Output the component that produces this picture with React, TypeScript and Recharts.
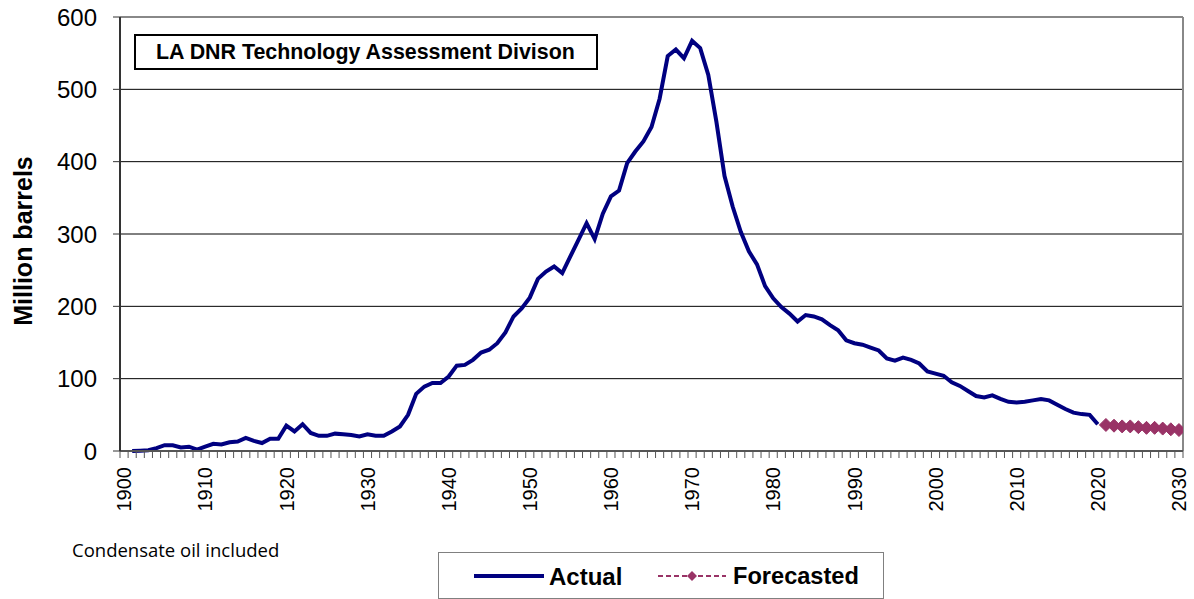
import React from "react";
import {
  LineChart,
  Line,
  XAxis,
  YAxis,
  CartesianGrid,
  ReferenceLine,
  Legend,
} from "recharts";

// ---- data ----
const actualStartYear = 1901;
const actualValues: number[] = [
  // 1901-1910
  0, 0.5, 1, 4, 8, 8, 5, 6, 2, 6,
  // 1911-1920
  10, 9, 12, 13, 18, 14, 11, 17, 17, 35,
  // 1921-1930
  27, 37, 25, 21, 21, 24, 23, 22, 20, 23,
  // 1931-1940
  21, 21, 27, 34, 50, 79, 89, 94, 94, 103,
  // 1941-1950
  118, 119, 126, 136, 140, 149, 164, 186, 197, 212,
  // 1951-1960
  238, 248, 255, 246, 269, 292, 315, 293, 328, 352,
  // 1961-1970
  360, 398, 414, 428, 448, 487, 546, 555, 543, 567,
  // 1971-1980
  557, 520, 455, 380, 338, 303, 276, 258, 228, 211,
  // 1981-1990
  199, 190, 179, 188, 186, 182, 174, 167, 153, 149,
  // 1991-2000
  147, 143, 139, 128, 125, 129, 126, 121, 110, 107,
  // 2001-2010
  104, 95, 90, 83, 76, 74, 77, 72, 68, 67,
  // 2011-2020
  68, 70, 72, 70, 64, 58, 53, 51, 50, 37,
];
const forecastStartYear = 2021;
const forecastValues: number[] = [36, 35, 34, 34, 33, 32, 32, 31, 30, 29];

const yTicks = [0, 100, 200, 300, 400, 500, 600];
const firstYear = 1900;
const lastYear = 2030;
const labelEvery = 10;

const data: { year: number; actual: number | null; forecast: number | null }[] = [];
for (let y = firstYear; y <= lastYear; y++) {
  const ai = y - actualStartYear;
  const fi = y - forecastStartYear;
  data.push({
    year: y,
    actual: ai >= 0 && ai < actualValues.length ? actualValues[ai] : null,
    forecast: fi >= 0 && fi < forecastValues.length ? forecastValues[fi] : null,
  });
}
const boundaryTicks: number[] = [];
for (let i = 0; i <= lastYear - firstYear + 1; i++) boundaryTicks.push(firstYear - 0.5 + i);

// ---- layout ----
const W = 1194;
const H = 599;
const MARGIN = { top: 17, right: 11, left: 0, bottom: 0 };
const Y_AXIS_W = 120;
const X_AXIS_H = 148;
const PLOT_W = W - MARGIN.left - MARGIN.right - Y_AXIS_W;
const STEP = PLOT_W / (lastYear - firstYear + 1);

const FONT = "'Liberation Sans', Arial, Helvetica, sans-serif";
const NAVY = "#000080";
const PLUM = "#993366";

const XTick = (props: any) => {
  const { x, y, payload } = props;
  const year = payload.value + 0.5;
  if (Math.round(year) % labelEvery !== 0) return <g />;
  const cx = x + STEP / 2;
  return (
    <text
      x={cx}
      y={y}
      transform={`rotate(-90, ${cx}, ${y})`}
      textAnchor="end"
      dy="0.36em"
      fontSize={20}
      fontFamily={FONT}
      fill="#000"
    >
      {Math.round(year)}
    </text>
  );
};

const Diamond = (props: any) => {
  const { cx, cy } = props;
  if (cx == null || cy == null) return <g />;
  const r = 6.5;
  return (
    <path
      d={`M${cx},${cy - r}L${cx + r},${cy}L${cx},${cy + r}L${cx - r},${cy}Z`}
      fill={PLUM}
      stroke={PLUM}
      strokeWidth={1}
    />
  );
};

const LegendBox = () => (
  <div
    style={{
      width: 446,
      height: 47,
      boxSizing: "border-box",
      border: "1px solid #808080",
      background: "#fff",
      position: "relative",
    }}
  >
    <svg width={444} height={45} style={{ position: "absolute", left: 0, top: 0 }}>
      <line x1={35} y1={23} x2={105} y2={23} stroke={NAVY} strokeWidth={4} />
      <text x={110} y={23} dy="0.36em" fontSize={24} fontWeight="bold" fontFamily={FONT} fill="#000">
        Actual
      </text>
      <line x1={219} y1={23} x2={287} y2={23} stroke={PLUM} strokeWidth={2} strokeDasharray="5 3" />
      <path d="M253,18L258,23L253,28L248,23Z" fill={PLUM} />
      <text x={294} y={23} dy="0.36em" fontSize={23.6} fontWeight="bold" fontFamily={FONT} fill="#000">
        Forecasted
      </text>
    </svg>
  </div>
);

const YLabel = (props: any) => {
  const vb = props.viewBox || {};
  const cx = 23;
  const cy = vb.y + vb.height / 2 + 7;
  return (
    <text
      x={cx}
      y={cy}
      transform={`rotate(-90, ${cx}, ${cy})`}
      textAnchor="middle"
      dy="0.36em"
      fontSize={25}
      fontWeight="bold"
      fontFamily={FONT}
      fill="#000"
    >
      Million barrels
    </text>
  );
};

export default function App() {
  return (
    <div style={{ position: "relative", width: W, height: H, background: "#fff", fontFamily: FONT }}>
      <style>{`body{margin:0;}`}</style>
      <LineChart width={W} height={H} data={data} margin={MARGIN}>
        <CartesianGrid vertical={false} stroke="#000" strokeWidth={1} />
        <XAxis
          dataKey="year"
          type="number"
          domain={[firstYear - 0.5, lastYear + 0.5]}
          ticks={boundaryTicks}
          interval={0}
          height={X_AXIS_H}
          tick={<XTick />}
          tickSize={7}
          tickMargin={9}
          axisLine={{ stroke: "#555", strokeWidth: 2 }}
          tickLine={{ stroke: "#555", strokeWidth: 1 }}
          allowDataOverflow
        />
        <YAxis
          type="number"
          domain={[0, 600]}
          ticks={yTicks}
          interval={0}
          width={Y_AXIS_W}
          tickSize={7}
          tickMargin={16}
          axisLine={{ stroke: "#333", strokeWidth: 2 }}
          tickLine={{ stroke: "#333", strokeWidth: 1 }}
          tick={{ fontSize: 24, fill: "#000", fontFamily: FONT }}
          label={<YLabel />}
        />
        <ReferenceLine y={600} stroke="#888" strokeWidth={2} />
        <ReferenceLine x={lastYear + 0.5} stroke="#888" strokeWidth={2} />
        <Line
          type="linear"
          dataKey="actual"
          name="Actual"
          stroke={NAVY}
          strokeWidth={4}
          dot={false}
          isAnimationActive={false}
          connectNulls={false}
        />
        <Line
          type="linear"
          dataKey="forecast"
          name="Forecasted"
          stroke={PLUM}
          strokeWidth={2}
          strokeDasharray="5 3"
          dot={<Diamond />}
          isAnimationActive={false}
          connectNulls={false}
        />
        <Legend
          layout="horizontal"
          verticalAlign="middle"
          align="center"
          content={<LegendBox />}
          wrapperStyle={{ position: "absolute", left: 438, top: 552, width: 446, height: 47 }}
        />
      </LineChart>
      <div
        style={{
          position: "absolute",
          left: 134,
          top: 34,
          width: 464,
          height: 36,
          boxSizing: "border-box",
          border: "2px solid #000",
          background: "#fff",
          display: "flex",
          alignItems: "center",
          paddingLeft: 20,
          fontSize: 21.4,
          fontWeight: "bold",
          fontFamily: FONT,
          color: "#000",
          whiteSpace: "nowrap",
        }}
      >
        LA DNR Technology Assessment Divison
      </div>
      <div
        style={{
          position: "absolute",
          left: 72,
          top: 537,
          fontSize: 18.5,
          fontFamily: "'Open Sans', 'Noto Sans', sans-serif",
          color: "#000",
          whiteSpace: "nowrap",
        }}
      >
        Condensate oil included
      </div>
    </div>
  );
}
